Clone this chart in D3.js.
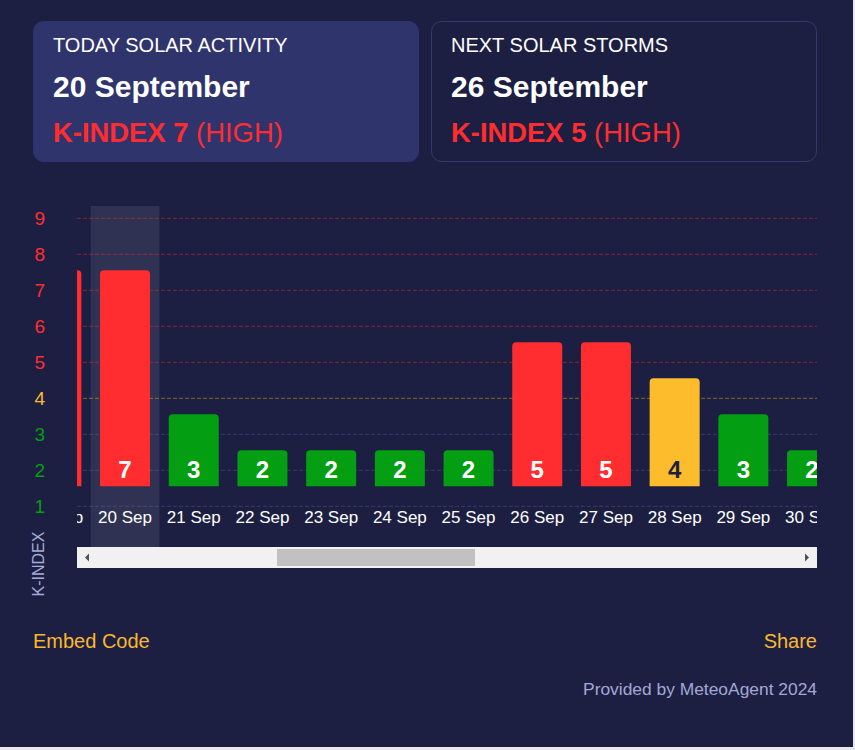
<!DOCTYPE html>
<html>
<head>
<meta charset="utf-8">
<script src="https://cdn.jsdelivr.net/npm/d3@7"></script>
<style>
  body { margin: 0; background: #e8e8ec; font-family: "Liberation Sans", Arial, sans-serif; }
  #wrap { width: 853px; height: 747px; background: #1c1f42; overflow: hidden; }
</style>
</head>
<body>
<div id="wrap"><svg id="chart"></svg></div>
<script>
var days = ["19 Sep", "20 Sep", "21 Sep", "22 Sep", "23 Sep", "24 Sep", "25 Sep",
            "26 Sep", "27 Sep", "28 Sep", "29 Sep", "30 Sep"];
var kIndex = [7, 7, 3, 2, 2, 2, 2, 5, 5, 4, 3, 2];
var yTicks = [1, 2, 3, 4, 5, 6, 7, 8, 9];
var today = "20 Sep";

var cardTitles = ["TODAY SOLAR ACTIVITY", "NEXT SOLAR STORMS"];
var cardDates = ["20 September", "26 September"];
var cardK = [7, 5];
var cardLevels = ["HIGH", "HIGH"];

var RED = "#ff2d2f", YELLOW = "#fcbc2c", GREEN = "#039e12";

function levelColor(v) { return v >= 5 ? RED : (v == 4 ? YELLOW : GREEN); }
function gridColor(v) {
    if (v >= 5) return "rgba(255,45,47,0.45)";
    if (v == 4) return "rgba(252,188,44,0.45)";
    return "rgba(110,120,180,0.35)";
}

var W = 853, H = 747;
var svg = d3.select("#chart").attr("width", W).attr("height", H);

// ---- header cards
var cardW = 386, cardH = 141;
var cards = svg.selectAll("g.card")
    .data(cardTitles)
    .enter().append("g")
    .attr("class", "card")
    .attr("transform", function(d, i) { return "translate(" + (33 + i * 398) + ",21)"; });

cards.append("rect")
    .attr("x", 0.5).attr("y", 0.5)
    .attr("width", cardW - 1).attr("height", cardH - 1)
    .attr("rx", 10)
    .attr("fill", function(d, i) { return i == 0 ? "#2f346d" : "none"; })
    .attr("stroke", function(d, i) { return i == 0 ? "#2f346d" : "#343a70"; });

cards.append("text")
    .attr("x", 20).attr("y", 31)
    .attr("fill", "#fff")
    .style("font-size", "20px")
    .text(function(d) { return d; });

cards.append("text")
    .attr("x", 20).attr("y", 76)
    .attr("fill", "#fff")
    .style("font-size", "30px")
    .style("font-weight", "bold")
    .text(function(d, i) { return cardDates[i]; });

var kt = cards.append("text")
    .attr("x", 20).attr("y", 121)
    .attr("fill", function(d, i) { return levelColor(cardK[i]); })
    .style("font-size", "27.4px");
kt.append("tspan")
    .style("font-weight", "bold")
    .text(function(d, i) { return "K-INDEX " + cardK[i] + " "; });
kt.append("tspan")
    .text(function(d, i) { return "(" + cardLevels[i] + ")"; });

// ---- chart
var left = 77, right = 817;
var y = d3.scaleLinear().domain([1, 9]).range([506.3, 218.3]);
var step = 68.7;
var x = d3.scaleBand()
    .domain(days)
    .range([22, 22 + step * days.length])
    .paddingInner(0.272)
    .paddingOuter(0.136);
var barShift = 20; // bars sit a little above the grid in the original

svg.append("clipPath").attr("id", "plotClip")
  .append("rect").attr("x", left).attr("y", 0).attr("width", right - left).attr("height", 547);

// y labels
var yAxis = svg.append("g")
    .attr("transform", "translate(" + left + ",0)")
    .call(d3.axisLeft(y).tickValues(yTicks).tickSize(0).tickPadding(32).tickFormat(d3.format("d")));
yAxis.select(".domain").remove();
yAxis.selectAll("text")
    .style("font-family", "'Liberation Sans', Arial, sans-serif")
    .style("font-size", "19px")
    .attr("fill", function(d) { return levelColor(d); });

svg.append("text")
    .attr("transform", "translate(44,564) rotate(-90)")
    .attr("text-anchor", "middle")
    .attr("fill", "#a9acd8")
    .style("font-size", "16px")
    .text("K-INDEX");

var plot = svg.append("g").attr("clip-path", "url(#plotClip)");

// highlight for today
plot.append("rect")
    .attr("x", x(today) - x.step() * x.paddingInner() / 2)
    .attr("y", 206)
    .attr("width", x.step())
    .attr("height", 547 - 206)
    .attr("fill", "rgba(255,255,255,0.085)");

// grid lines
plot.selectAll("line.grid")
    .data(yTicks)
    .enter().append("line")
    .attr("class", "grid")
    .attr("x1", left).attr("x2", right)
    .attr("y1", function(d) { return y(d); })
    .attr("y2", function(d) { return y(d); })
    .attr("stroke", function(d) { return gridColor(d); })
    .attr("stroke-width", 1)
    .attr("stroke-dasharray", "4,2");

function topRounded(x0, y0, w, h, r) {
    return "M" + x0 + "," + (y0 + h) +
           "V" + (y0 + r) +
           "Q" + x0 + "," + y0 + " " + (x0 + r) + "," + y0 +
           "H" + (x0 + w - r) +
           "Q" + (x0 + w) + "," + y0 + " " + (x0 + w) + "," + (y0 + r) +
           "V" + (y0 + h) + "Z";
}

var bars = plot.selectAll("g.bar")
    .data(days)
    .enter().append("g")
    .attr("class", "bar");

bars.append("path")
    .attr("d", function(d, i) {
        var top = y(kIndex[i]) - barShift, base = y(1) - barShift;
        return topRounded(x(d), top, x.bandwidth(), base - top, 4);
    })
    .attr("fill", function(d, i) { return levelColor(kIndex[i]); });

bars.append("text")
    .attr("x", function(d) { return x(d) + x.bandwidth() / 2; })
    .attr("y", y(1) - barShift - 8)
    .attr("text-anchor", "middle")
    .attr("fill", function(d, i) { return kIndex[i] == 4 ? "#1c1f42" : "#fff"; })
    .style("font-size", "24px")
    .style("font-weight", "bold")
    .text(function(d, i) { return kIndex[i]; });

var xAxis = plot.append("g")
    .attr("transform", "translate(0," + y(1) + ")")
    .call(d3.axisBottom(x).tickSize(0).tickPadding(5));
xAxis.select(".domain").remove();
xAxis.selectAll("text")
    .style("font-family", "'Liberation Sans', Arial, sans-serif")
    .style("font-size", "17px")
    .attr("fill", "#fff");

// scrollbar under the plot
var sb = svg.append("g").attr("transform", "translate(" + left + ",547)");
sb.append("rect").attr("width", right - left).attr("height", 21).attr("fill", "#f1f1f1");
sb.append("rect").attr("x", 200).attr("y", 2).attr("width", 198).attr("height", 17).attr("fill", "#c1c1c1");
sb.append("path").attr("d", "M8,10.5L12,6.5V14.5Z").attr("fill", "#505050");
sb.append("path").attr("d", "M732,10.5L728,6.5V14.5Z").attr("fill", "#505050");

// footer
svg.append("text")
    .attr("x", 33).attr("y", 648)
    .attr("fill", "#fbb82a")
    .style("font-size", "20px")
    .text("Embed Code");
svg.append("text")
    .attr("x", 817).attr("y", 648)
    .attr("text-anchor", "end")
    .attr("fill", "#fbb82a")
    .style("font-size", "20px")
    .text("Share");
svg.append("text")
    .attr("x", 817).attr("y", 695)
    .attr("text-anchor", "end")
    .attr("fill", "#a4a8d4")
    .style("font-size", "17.4px")
    .text("Provided by MeteoAgent 2024");
</script>
</body>
</html>
